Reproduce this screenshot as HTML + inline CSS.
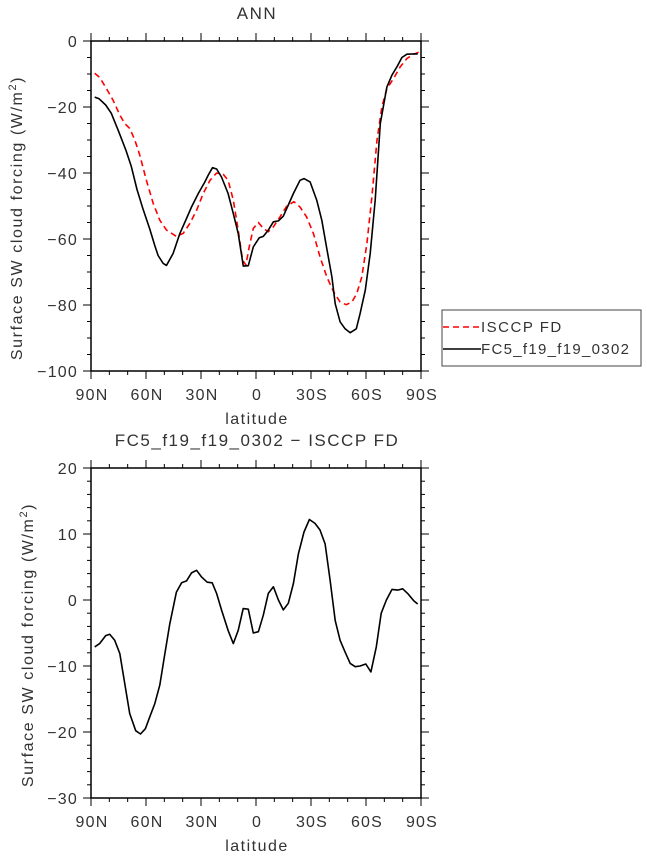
<!DOCTYPE html>
<html><head><meta charset="utf-8"><style>
html,body{margin:0;padding:0;background:#fff;}
svg{display:block;font-family:"Liberation Sans","DejaVu Sans",sans-serif;}
</style></head><body>
<svg id="chart" width="647" height="856" viewBox="0 0 647 856"></svg>
<script>
const latTicks=[90,60,30,0,-30,-60,-90];
const latTickLabels=["90N","60N","30N","0","30S","60S","90S"];
const topYTicks=[0,-20,-40,-60,-80,-100];
const botYTicks=[20,10,0,-10,-20,-30];
const modelLat=[88,85.6,82,78.9,75.2,71,68,64.9,61.6,57.9,55.2,53.4,50.6,48.8,45.2,41.5,37.9,35.2,31.5,27.9,26,23.7,21.5,18.8,15.2,12.4,9.7,6.9,4.2,1.5,-1.8,-4,-6.7,-9.5,-12.2,-14.9,-17.6,-20.4,-24,-26.2,-29.5,-33.1,-35.9,-38.6,-41.4,-43.2,-45.9,-48.6,-51.4,-54.7,-56.8,-59.6,-62.3,-65,-67.8,-71.4,-74.2,-76.9,-79.6,-82.3,-86,-88.2];
const modelVal=[-17,-17.5,-19.4,-21.9,-27,-33,-38,-45,-51,-57,-62,-65,-67.4,-68,-64.4,-58.3,-53.8,-50.3,-46.2,-42.7,-40.6,-38.4,-38.8,-41.2,-46.2,-52.3,-58.3,-68.2,-68.1,-62.4,-59.6,-59.2,-57.3,-54.8,-54.5,-53.1,-49.7,-46.2,-42.2,-41.7,-42.7,-48.2,-54.3,-62.9,-71.5,-79.6,-85.1,-87.2,-88.4,-87.2,-82.6,-75.5,-64.4,-48.2,-25,-13.9,-10.3,-7.8,-5,-4,-3.9,-3.9];
const obsLat=[88,85.3,81.6,78,74.3,71.6,68.9,66.1,63.4,59.8,56.1,52.5,48.8,43.4,39.7,36.1,32.4,28.8,25.1,21.5,17.9,15.2,12.4,9.7,7.3,5.5,3.7,1.5,-1.3,-4,-6.7,-9.5,-13.1,-16.7,-20.7,-24,-27.6,-31.3,-34.9,-38.6,-42.3,-45.9,-49.2,-52.3,-55,-57.7,-60.5,-63.2,-66,-68.7,-71.4,-75.1,-78.7,-82.3,-86,-88.7];
const obsVal=[-9.8,-11,-14.4,-17.9,-22.4,-25,-26.5,-30,-34.6,-42.2,-49.2,-54.3,-57.3,-59.2,-58.3,-55.3,-51.3,-46.2,-42.2,-40,-40.4,-42.2,-48.2,-57.3,-66.4,-67.9,-62.4,-56.8,-55,-56.8,-57.8,-56.3,-53.3,-50.1,-48.7,-50.3,-53.3,-58.3,-65.4,-71.5,-76,-79.1,-79.9,-79.1,-76.5,-71.5,-61.4,-47.2,-30,-19.9,-14.4,-11.3,-7.8,-5.3,-4,-3.4];
const diffLat=[88,85.3,82,79.8,77.1,74.3,71.6,68.9,65.6,63,60.3,57.9,55.2,52.5,49.7,47,43.4,40.6,37.9,35.2,32.4,29.7,26.6,23.9,21.5,18.8,15.2,12.4,9.7,7,4.2,1.5,-1.3,-4,-6.7,-9.5,-12.2,-14.9,-17.6,-20.4,-23.1,-26.2,-29.1,-32.2,-34.9,-37.7,-40.4,-43.2,-45.9,-48.6,-51.4,-54.1,-56.8,-59.9,-62.7,-65.6,-68.3,-71.1,-74.2,-77.3,-80,-82.7,-86,-88.2];
const diffVal=[-7.1,-6.6,-5.4,-5.2,-6.1,-8.1,-12.6,-17.2,-19.8,-20.3,-19.5,-17.7,-15.7,-12.9,-8.1,-3.6,1.2,2.6,2.9,4.1,4.5,3.5,2.7,2.6,1,-1.5,-4.6,-6.6,-4.6,-1.3,-1.4,-5,-4.8,-2.3,1,2,0,-1.5,-0.5,2.5,7,10.3,12.2,11.6,10.6,8.5,3,-3.1,-6.1,-7.9,-9.6,-10.1,-10,-9.7,-10.9,-7.1,-2,0,1.6,1.5,1.7,1,-0.1,-0.6];

const NS='http://www.w3.org/2000/svg';
const svg=document.getElementById('chart');
function mk(tag,attrs,parent){const e=document.createElementNS(NS,tag);for(const k in attrs)e.setAttribute(k,attrs[k]);(parent||svg).appendChild(e);return e;}

function panel(cfg){
  const L=91,R=421,T=cfg.top,B=cfg.top+330;
  const g=mk('g',{});
  
  
  const xs=lat=>L+(90-lat)/180*(R-L);
  const ys=v=>T+(cfg.ymax-v)/(cfg.ymax-cfg.ymin)*(B-T);
  for(let lat=90;lat>=-90;lat-=10){
    const major=lat%30===0;const len=major?8:4;
    mk('line',{x1:xs(lat),x2:xs(lat),y1:B,y2:B+len,stroke:'#000','stroke-width':1},g);
    mk('line',{x1:xs(lat),x2:xs(lat),y1:T,y2:T-len,stroke:'#000','stroke-width':1},g);
  }
  for(let v=cfg.ymax;v>=cfg.ymin;v-=cfg.minor){
    const major=Math.abs(v%cfg.major)<1e-6;const len=major?8:4;
    mk('line',{x1:L,x2:L-len,y1:ys(v),y2:ys(v),stroke:'#000','stroke-width':1},g);
    mk('line',{x1:R,x2:R+len,y1:ys(v),y2:ys(v),stroke:'#000','stroke-width':1},g);
  }
  const frame=mk('rect',{x:L,y:T,width:R-L,height:B-T,fill:'none',stroke:'#000','stroke-width':1.5},g);
  
  
  latTicks.forEach((lat,i)=>{
    const t=mk('text',{x:xs(lat)+1,y:B+29,'text-anchor':'middle','font-size':16,'letter-spacing':1.2,fill:'#333'},g);
    
    
    t.textContent=latTickLabels[i];
  });
  cfg.yticks.forEach(v=>{
    const t=mk('text',{x:L-13,y:ys(v)+6,'text-anchor':'end','font-size':16,'letter-spacing':1.2,fill:'#333'},g);
    
    
    t.textContent=v<0?'\u2212'+(-v):String(v);
  });
  const xt=mk('text',{x:257,y:B+53,'text-anchor':'middle','font-size':16,'letter-spacing':1.5,fill:'#333'},g);
  
  
  xt.textContent='latitude';
  const yt=mk('text',{transform:`translate(${cfg.ytx},${(T+B)/2+12}) rotate(-90)`,'text-anchor':'middle','font-size':16,'letter-spacing':1.6,fill:'#333'},g);
  
  
  yt.innerHTML='Surface SW cloud forcing (W/m<tspan dy="-6" font-size="11">2</tspan><tspan dy="6">)</tspan>';
  const tt=mk('text',{x:257,y:T-22,'text-anchor':'middle','font-size':17,'letter-spacing':1.5,fill:'#333'},g);
  
  
  tt.textContent=cfg.title;
  cfg.series.forEach(s=>{
    const d=s.lat.map((la,i)=>(i?'L':'M')+xs(la).toFixed(1)+','+ys(s.val[i]).toFixed(1)).join('');
    const p=mk('path',{d:d,fill:'none',stroke:s.color,'stroke-width':1.6,'stroke-dasharray':s.dash||'none','stroke-linejoin':'round'},g);
    
    
  });
}
panel({name:'top-panel',top:41,ymax:0,ymin:-100,major:20,minor:5,yticks:topYTicks,title:'ANN',ytx:22,
  series:[{name:'isccp-line',lat:obsLat,val:obsVal,color:'#f00',dash:'6,4'},{name:'model-line',lat:modelLat,val:modelVal,color:'#000'}]});
panel({name:'bottom-panel',top:468,ymax:20,ymin:-30,major:10,minor:2,yticks:botYTicks,title:'FC5_f19_f19_0302 \u2212 ISCCP FD',ytx:33,
  series:[{name:'difference-line',lat:diffLat,val:diffVal,color:'#000'}]});

const lg=mk('g',{});


mk('rect',{x:442,y:310,width:199,height:56,fill:'#fff',stroke:'#444','stroke-width':1},lg);
mk('line',{x1:443,x2:481,y1:327,y2:327,stroke:'#f00','stroke-width':1.6,'stroke-dasharray':'6,4'},lg);
mk('line',{x1:443,x2:481,y1:349,y2:349,stroke:'#000','stroke-width':1.6},lg);
const l1=mk('text',{x:481,y:332,'font-size':15,'letter-spacing':1.5,fill:'#333'},lg);


l1.textContent='ISCCP FD';
const l2=mk('text',{x:481,y:354,'font-size':15,'letter-spacing':1.3,fill:'#333'},lg);


l2.textContent='FC5_f19_f19_0302';
</script>
</body></html>
